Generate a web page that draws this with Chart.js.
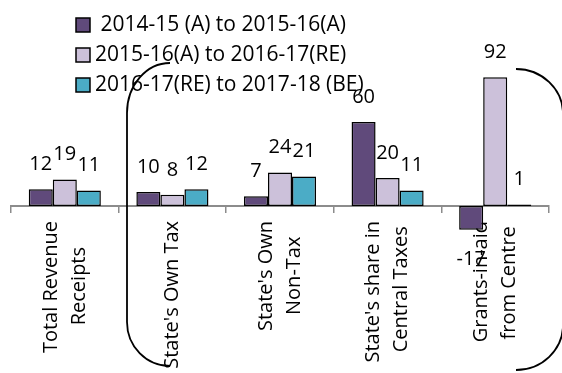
<!DOCTYPE html>
<html>
<head>
<meta charset="utf-8">
<script src="https://cdn.jsdelivr.net/npm/chart.js@4/dist/chart.umd.min.js"></script>
<style>
  html, body { margin: 0; padding: 0; background: #ffffff; }
  canvas { display: block; }
</style>
</head>
<body>
<canvas id="growthChart" width="562" height="373"></canvas>
<script>
// Revenue components, growth rates (%) between budget years
const categories = [
  ['Total Revenue', 'Receipts'],
  ["State's Own Tax"],
  ["State's Own", 'Non-Tax'],
  ["State's share in", 'Central Taxes'],
  ['Grants-in-aid', 'from Centre']
];
const seriesLabels = [
  ' 2014-15 (A) to 2015-16(A)',
  '2015-16(A) to 2016-17(RE)',
  '2016-17(RE) to 2017-18 (BE)'
];
const growth1415to1516 = [12, 10, 7, 60, -17];
const growth1516to1617 = [19, 8, 24, 20, 92];
const growth1617to1718 = [11, 12, 21, 11, 1];
const valueRange = [-20, 100];

const FONT_FAMILY = "'Open Sans', sans-serif";
const LABEL_SIZE = 20;
const LINE_GAP = 28;
const seriesColours = ['#604A7B', '#CCC1DA', '#4BACC6'];

// Pad the shorter lines of a wrapped label so the lines sit centred on each other
function centreLines(lines) {
  const m = document.createElement('canvas').getContext('2d');
  m.font = LABEL_SIZE + 'px ' + FONT_FAMILY;
  const widths = lines.map(l => m.measureText(l).width);
  const widest = Math.max(...widths);
  const space = m.measureText(' ').width;
  return lines.map((l, i) => l + ' '.repeat(Math.round((widest - widths[i]) / 2 / space)));
}

// Two-line labels are shifted back by half a line so both lines straddle the
// category centre; one-line labels get an empty first line at half spacing.
const tickLabels = categories.map(c => c.length > 1 ? centreLines(c) : ['', c[0]]);

// Value printed just outside the end of every bar
const barValues = {
  id: 'barValues',
  afterDatasetsDraw(chart) {
    const ctx = chart.ctx;
    ctx.save();
    ctx.font = LABEL_SIZE + 'px ' + FONT_FAMILY;
    ctx.fillStyle = '#000';
    ctx.textAlign = 'center';
    ctx.textBaseline = 'middle';
    chart.data.datasets.forEach((ds, i) => {
      chart.getDatasetMeta(i).data.forEach((bar, j) => {
        const v = ds.data[j];
        const y = v >= 0 ? bar.y - 25 : bar.y + 29;
        ctx.fillText(String(v), bar.x, y);
      });
    });
    ctx.restore();
  }
};

// Stacked key of the three periods
const seriesKey = {
  id: 'seriesKey',
  afterDraw(chart, args, opts) {
    const ctx = chart.ctx;
    ctx.save();
    ctx.font = opts.fontSize + 'px ' + FONT_FAMILY;
    ctx.textBaseline = 'middle';
    ctx.textAlign = 'left';
    chart.data.datasets.forEach((ds, i) => {
      const y = opts.top + i * opts.rowGap;
      const s = opts.box;
      ctx.fillStyle = ds.backgroundColor;
      ctx.fillRect(opts.left, y - s / 2, s, s);
      ctx.lineWidth = 1.5;
      ctx.strokeStyle = '#000';
      ctx.strokeRect(opts.left, y - s / 2, s, s);
      ctx.fillStyle = '#000';
      ctx.fillText(ds.label, opts.left + s + 5, y);
    });
    ctx.restore();
  }
};

// Curved brackets drawn over the plot
const brackets = {
  id: 'brackets',
  afterDraw(chart) {
    const ctx = chart.ctx;
    ctx.save();
    ctx.strokeStyle = '#000';
    ctx.lineWidth = 1.8;
    // opening bracket
    ctx.beginPath();
    ctx.ellipse(170, 113, 43, 50, 0, -Math.PI / 2, -Math.PI, true);
    ctx.lineTo(127, 322);
    ctx.ellipse(170, 322, 43, 44, 0, Math.PI, Math.PI / 2, true);
    ctx.stroke();
    // closing bracket
    ctx.beginPath();
    ctx.ellipse(516, 114, 47, 45, 0, -Math.PI / 2, 0, false);
    ctx.lineTo(563, 325);
    ctx.ellipse(516, 325, 47, 45, 0, 0, Math.PI / 2, false);
    ctx.stroke();
    ctx.restore();
  }
};

const seriesData = [growth1415to1516, growth1516to1617, growth1617to1718];

new Chart(document.getElementById('growthChart'), {
  type: 'bar',
  data: {
    labels: tickLabels,
    datasets: seriesData.map((values, i) => ({
      label: seriesLabels[i],
      data: values,
      backgroundColor: seriesColours[i],
      borderColor: '#000',
      borderWidth: 1.5,
      borderSkipped: false,
      categoryPercentage: 0.67,
      barPercentage: 1.0
    }))
  },
  options: {
    responsive: false,
    animation: false,
    devicePixelRatio: 1,
    layout: { padding: { left: 11, right: 13, top: 66, bottom: 139 } },
    plugins: {
      legend: { display: false },
      tooltip: { enabled: false },
      seriesKey: { left: 76, top: 25, rowGap: 30, box: 14, fontSize: 21 }
    },
    scales: {
      x: {
        position: { y: 0 },
        offset: true,
        z: 1,
        grid: { offset: true, drawOnChartArea: false, drawTicks: true, tickLength: 6, color: '#8c8c8c', lineWidth: 1.5 },
        border: { display: true, color: '#8c8c8c', width: 2 },
        ticks: {
          autoSkip: false,
          minRotation: 90,
          maxRotation: 90,
          padding: 9,
          labelOffset: -LINE_GAP / 2,
          color: '#000',
          font: (ctx) => ({
            family: FONT_FAMILY,
            size: LABEL_SIZE,
            lineHeight: (categories[ctx.index] && categories[ctx.index].length > 1 ? LINE_GAP : LINE_GAP / 2) + 'px'
          })
        }
      },
      y: { display: false, min: valueRange[0], max: valueRange[1] }
    }
  },
  plugins: [barValues, seriesKey, brackets]
});
</script>
</body>
</html>
